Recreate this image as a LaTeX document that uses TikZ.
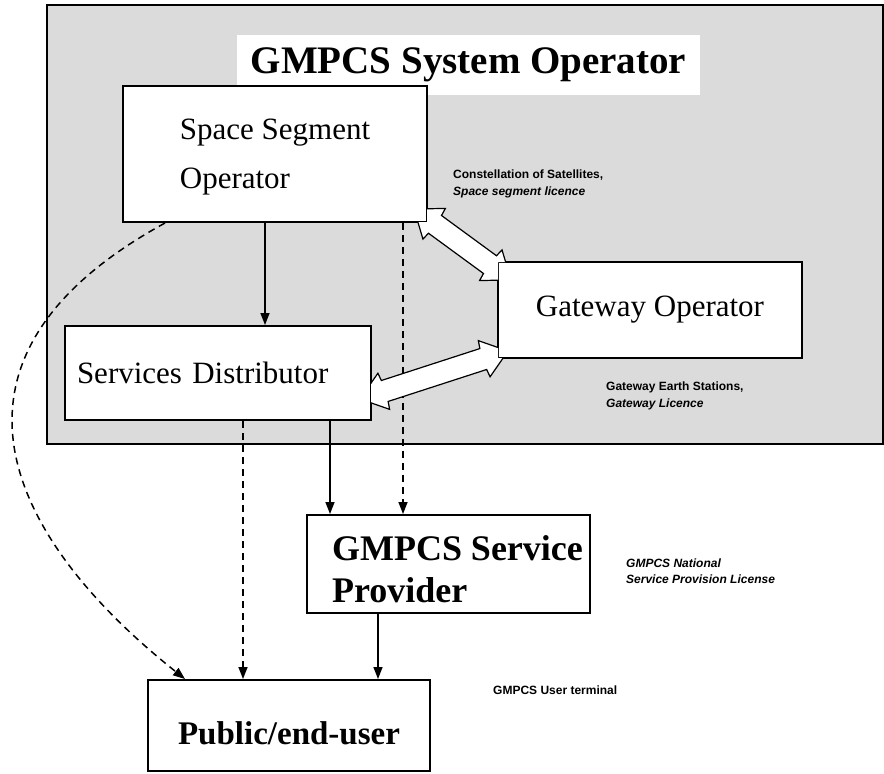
\documentclass[tikz,border=0pt]{standalone}
\usepackage{fontspec}
\setmainfont{Liberation Serif}
\setsansfont{Liberation Sans}
\usetikzlibrary{arrows.meta, calc, positioning}
\definecolor{opgray}{gray}{0.86}

% white double arrow from #1 to #2
\newcommand{\gwlink}[2]{%
  \path let \p1=($(#2)-(#1)$) in \pgfextra{%
    \pgfmathsetmacro\lkang{atan2(\y1,\x1)}\global\let\lkang\lkang
    \pgfmathsetmacro\lklen{veclen(\x1,\y1)}\global\let\lklen\lklen};
  \draw[link, shift={(#1)}, rotate=\lkang]
    (0,0) -- (25,19) -- (26,11) -- ({\lklen-26},11) -- ({\lklen-25},19)
    -- (\lklen,0) -- ({\lklen-25},-19) -- ({\lklen-26},-11) -- (26,-11)
    -- (25,-19) -- cycle;
}

\begin{document}
\begin{tikzpicture}[x=1pt, y=-1pt,
	block/.style={draw, fill=white, line width=2pt, inner sep=0pt},
	note/.style={font=\sffamily\bfseries\fontsize{12}{16.5}\selectfont,
		align=left, anchor=west, inner sep=0pt},
	conn/.style={line width=1.5pt, -{Stealth[length=12pt, width=9pt, inset=0pt]}},
	dconn/.style={conn, dash pattern=on 7pt off 5pt},
	link/.style={fill=white, draw, line width=1.2pt}]
\useasboundingbox (0,0) rectangle (884,774);

% system operator frame
\draw[line width=2.5pt, fill=opgray] (47,5) rectangle (883,444);
\node[fill=white, minimum width=463pt, minimum height=60pt,
	font=\bfseries\fontsize{39}{44}\selectfont] (title) at (468.5,65) {GMPCS System Operator};

\node[block, minimum width=304pt, minimum height=136pt, align=left, text height=75pt,
	font=\fontsize{31}{49}\selectfont] (sso) at (275,154) {Space Segment\\Operator};
\node[block, minimum width=304pt, minimum height=96pt,
	font=\fontsize{31}{36}\selectfont] (gwo) at (650,310) {Gateway Operator};
\node[block, minimum height=94pt, inner xsep=12pt, text width=282pt, align=left,
	font=\fontsize{31}{36}\selectfont] (sd) at (218,373) {Services Distributor};
\node[block, minimum width=283pt, minimum height=98pt, align=left, text height=78pt,
	font=\bfseries\fontsize{36}{42}\selectfont] (gsp) at (448.5,564)
	{\hspace*{18pt}GMPCS Service\\\hspace*{18pt}Provider};
\node[block, minimum width=282pt, minimum height=91pt, text height=45pt, text depth=8pt,
	font=\bfseries\fontsize{33}{40}\selectfont] (peu) at (289,725.5) {Public/end-user};

\node[note] (ssnote) at (453,184) {Constellation of Satellites,\\{\itshape Space segment licence}};
\node[note] (gwnote) at (606,396) {Gateway Earth Stations,\\{\itshape Gateway Licence}};
\node[note] (spnote) at (626,571) {\itshape GMPCS National\\\itshape Service Provision License};
\node[note] (utnote) at (493,690) {GMPCS User terminal};

\draw[conn] (sso.south -| 265,0) -- (sd.north -| 265,0);
\draw[conn] (sd.south -| 330,0) -- (gsp.north -| 330,0);
\draw[conn] (gsp.south -| 378,0) -- (peu.north -| 378,0);
\draw[dconn] (sso.south -| 403,0) -- (gsp.north -| 403,0);
\draw[dconn] (sd.south -| 243,0) -- (peu.north -| 243,0);
\draw[dconn] (sso.south -| 165,0) .. controls (-85,360) and (10,540) .. (peu.north -| 185,0);

% links to the gateway
\coordinate (lka1) at (414,209);
\coordinate (lka2) at (511,280);
\coordinate (lkb1) at (360,399);
\coordinate (lkb2) at (508,351);
\begin{scope}
\clip (0,0) rectangle (884,774)
	($(sso.north east)+(-1,1)$) rectangle ($(sso.south west)+(1,-1)$)
	($(gwo.north east)+(-1,1)$) rectangle ($(gwo.south west)+(1,-1)$)
	($(sd.north east)+(-1,1)$) rectangle ($(sd.south west)+(1,-1)$);
\gwlink{lka1}{lka2}
\gwlink{lkb1}{lkb2}
\end{scope}
\end{tikzpicture}
\end{document}
